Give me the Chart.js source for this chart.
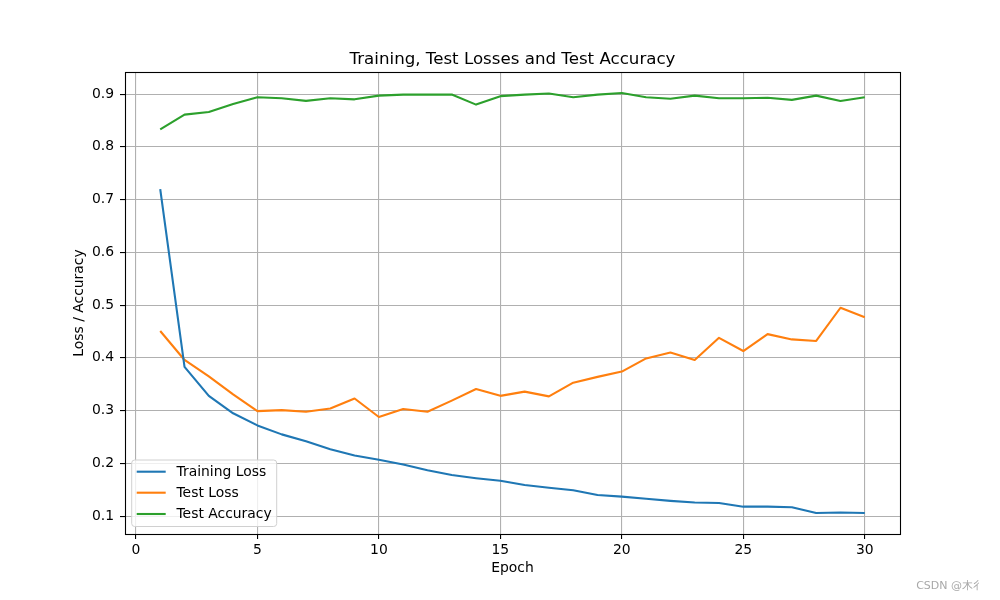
<!DOCTYPE html>
<html>
<head>
<meta charset="utf-8">
<script src="https://cdn.jsdelivr.net/npm/chart.js@4.4.1/dist/chart.umd.min.js"></script>
<style>
  html, body { margin: 0; padding: 0; background: #fff; }
  canvas { display: block; }
</style>
</head>
<body>
<canvas id="c" width="1000" height="600"></canvas>
<script>
const epochs = [1,2,3,4,5,6,7,8,9,10,11,12,13,14,15,16,17,18,19,20,21,22,23,24,25,26,27,28,29,30];
const trainingLoss = [0.720,0.383,0.328,0.295,0.272,0.255,0.242,0.227,0.215,0.207,0.198,0.187,0.178,0.172,0.167,0.159,0.154,0.149,0.140,0.137,0.133,0.129,0.126,0.125,0.118,0.118,0.117,0.106,0.107,0.106];
const testLoss = [0.451,0.396,0.365,0.331,0.299,0.301,0.298,0.304,0.323,0.288,0.303,0.298,0.319,0.341,0.328,0.336,0.327,0.353,0.364,0.374,0.399,0.410,0.396,0.438,0.413,0.445,0.435,0.432,0.495,0.477];
const testAccuracy = [0.833,0.861,0.866,0.881,0.894,0.892,0.887,0.892,0.890,0.897,0.899,0.899,0.899,0.880,0.896,0.899,0.901,0.894,0.899,0.902,0.894,0.891,0.897,0.892,0.892,0.893,0.889,0.897,0.887,0.894];
const xTicks = [0,5,10,15,20,25,30];
const yTicks = [0.1,0.2,0.3,0.4,0.5,0.6,0.7,0.8,0.9];
const seriesNames = ['Training Loss','Test Loss','Test Accuracy'];
const seriesColors = ['#1f77b4','#ff7f0e','#2ca02c'];
const titleText = 'Training, Test Losses and Test Accuracy';
const xLabel = 'Epoch';
const yLabel = 'Loss / Accuracy';
const watermark = 'CSDN @木彳';

const FONT = '"DejaVu Sans", sans-serif';
const allSeries = [trainingLoss, testLoss, testAccuracy];

const xMinD = Math.min(...epochs), xMaxD = Math.max(...epochs);
const xPad = (xMaxD - xMinD) * 0.05;
const allY = allSeries.flat();
const yMinD = Math.min(...allY), yMaxD = Math.max(...allY);
const yPad = (yMaxD - yMinD) * 0.05;

const datasets = allSeries.map((arr, i) => ({
  label: seriesNames[i],
  data: epochs.map((e, j) => ({ x: e, y: arr[j] })),
  borderColor: seriesColors[i],
  backgroundColor: seriesColors[i],
  borderWidth: 2.1,
  pointRadius: 0,
  tension: 0,
  fill: false,
  borderCapStyle: 'butt',
  borderJoinStyle: 'round'
}));

const overlay = {
  id: 'overlay',
  afterDraw(chart) {
    const ctx = chart.ctx;
    const a = chart.chartArea;
    ctx.save();
    // frame
    ctx.strokeStyle = '#000';
    ctx.lineWidth = 1.1;
    ctx.strokeRect(Math.round(a.left) + 0.5, Math.round(a.top) + 0.5, Math.round(a.right - a.left), Math.round(a.bottom - a.top));
    // title
    ctx.font = '16.67px ' + FONT;
    ctx.fillStyle = '#000';
    ctx.textAlign = 'center';
    ctx.textBaseline = 'middle';
    ctx.fillText(titleText, (a.left + a.right) / 2, 59.5);
    // legend
    const bx = 131.7, by = 460, bw = 145, bh = 66.5;
    ctx.beginPath();
    ctx.roundRect(bx, by, bw, bh, 3);
    ctx.fillStyle = 'rgba(255,255,255,0.8)';
    ctx.fill();
    ctx.strokeStyle = '#d0d0d0';
    ctx.lineWidth = 1;
    ctx.stroke();
    const rows = [471.7, 492.7, 514.0];
    ctx.font = '13.9px ' + FONT;
    ctx.textBaseline = 'middle';
    ctx.textAlign = 'left';
    seriesNames.forEach((n, i) => {
      ctx.beginPath();
      ctx.moveTo(136.7, rows[i]);
      ctx.lineTo(165.7, rows[i]);
      ctx.strokeStyle = seriesColors[i];
      ctx.lineWidth = 2.1;
      ctx.stroke();
      ctx.fillStyle = '#000';
      ctx.fillText(n, 176.5, rows[i] + 0.5);
    });
    // watermark
    ctx.font = '11px ' + FONT;
    ctx.fillStyle = '#a8a8a8';
    ctx.textAlign = 'right';
    ctx.textBaseline = 'middle';
    ctx.fillText(watermark, 984, 586);
    ctx.restore();
  }
};

new Chart(document.getElementById('c'), {
  type: 'line',
  data: { datasets },
  options: {
    responsive: false,
    animation: false,
    devicePixelRatio: 1,
    layout: { padding: { left: 0, right: 100, top: 72, bottom: 0 } },
    plugins: {
      legend: { display: false },
      tooltip: { enabled: false },
      title: { display: false }
    },
    scales: {
      x: {
        type: 'linear',
        min: xMinD - xPad,
        max: xMaxD + xPad,
        afterBuildTicks: s => { s.ticks = xTicks.map(v => ({ value: v })); },
        afterFit: s => { s.height = 66; },
        grid: { color: '#b0b0b0', lineWidth: 1.1, tickColor: '#000', tickLength: 5, tickWidth: 1.1 },
        border: { display: false },
        ticks: { color: '#000', font: { family: FONT, size: 13.9 }, padding: 3, maxRotation: 0, autoSkip: false, callback: v => String(v) },
        title: { display: true, text: xLabel, color: '#000', font: { family: FONT, size: 13.9 }, padding: { top: 0, bottom: 23.5 } }
      },
      y: {
        type: 'linear',
        min: yMinD - yPad,
        max: yMaxD + yPad,
        afterBuildTicks: s => { s.ticks = yTicks.map(v => ({ value: v })); },
        afterFit: s => { s.width = 125; },
        grid: { color: '#b0b0b0', lineWidth: 1.1, tickColor: '#000', tickLength: 5, tickWidth: 1.1 },
        border: { display: false },
        ticks: { color: '#000', font: { family: FONT, size: 13.9 }, padding: 6, autoSkip: false, callback: v => v.toFixed(1) },
        title: { display: true, text: yLabel, color: '#000', font: { family: FONT, size: 13.9 }, padding: { top: 71.5, bottom: 0 } }
      }
    }
  },
  plugins: [overlay]
});
</script>
</body>
</html>
